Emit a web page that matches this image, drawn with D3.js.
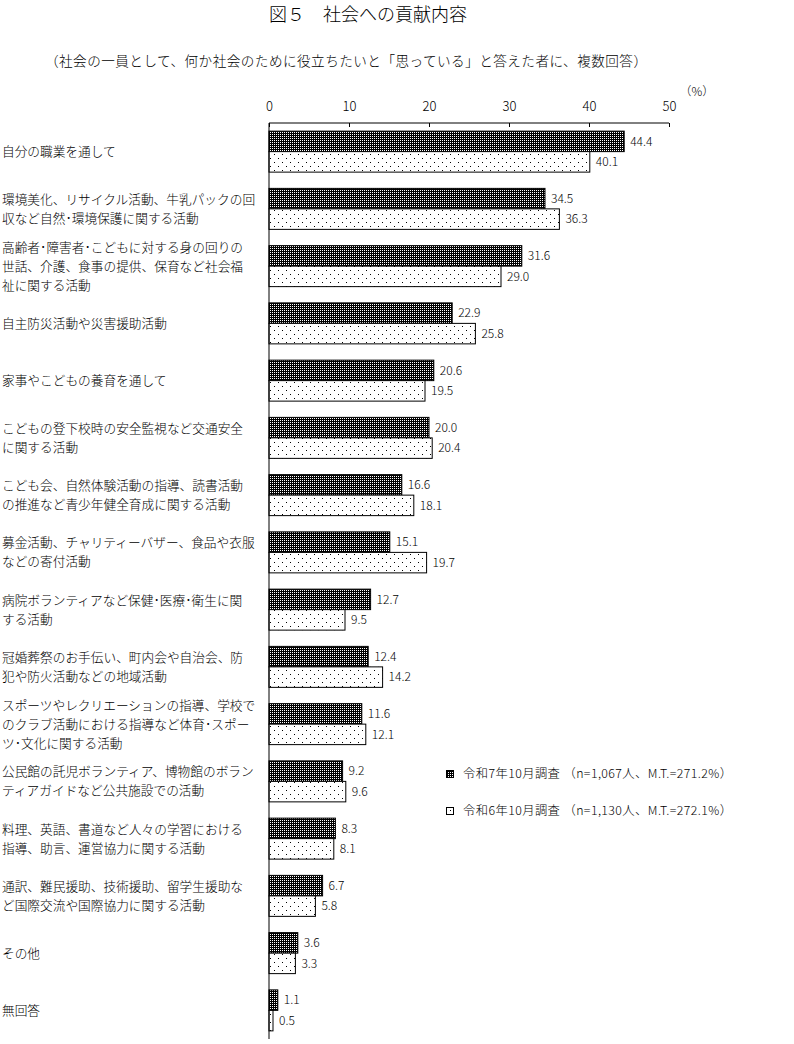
<!DOCTYPE html>
<html><head><meta charset="utf-8">
<script src="https://cdn.jsdelivr.net/npm/d3@7"></script>
<style>
body{margin:0;background:#fff;}
svg{display:block;font-family:"Noto Sans CJK JP","Noto Sans",sans-serif;font-weight:300;}
</style></head>
<body>
<svg id="chart" width="794" height="1044"></svg>
<script>
const title = "図５　社会への貢献内容";
const subtitle = "（社会の一員として、何か社会のために役立ちたいと「思っている」と答えた者に、複数回答）";
const categories = [
"自分の職業を通して",
"環境美化、リサイクル活動、牛乳パックの回\n収など自然･環境保護に関する活動",
"高齢者･障害者･こどもに対する身の回りの\n世話、介護、食事の提供、保育など社会福\n祉に関する活動",
"自主防災活動や災害援助活動",
"家事やこどもの養育を通して",
"こどもの登下校時の安全監視など交通安全\nに関する活動",
"こども会、自然体験活動の指導、読書活動\nの推進など青少年健全育成に関する活動",
"募金活動、チャリティーバザー、食品や衣服\nなどの寄付活動",
"病院ボランティアなど保健･医療･衛生に関\nする活動",
"冠婚葬祭のお手伝い、町内会や自治会、防\n犯や防火活動などの地域活動",
"スポーツやレクリエーションの指導、学校で\nのクラブ活動における指導など体育･スポー\nツ･文化に関する活動",
"公民館の託児ボランティア、博物館のボラン\nティアガイドなど公共施設での活動",
"料理、英語、書道など人々の学習における\n指導、助言、運営協力に関する活動",
"通訳、難民援助、技術援助、留学生援助な\nど国際交流や国際協力に関する活動",
"その他",
"無回答"
];
const seriesR7 = [44.4,34.5,31.6,22.9,20.6,20.0,16.6,15.1,12.7,12.4,11.6,9.2,8.3,6.7,3.6,1.1];
const seriesR6 = [40.1,36.3,29.0,25.8,19.5,20.4,18.1,19.7,9.5,14.2,12.1,9.6,8.1,5.8,3.3,0.5];
const seriesNames = ["令和7年10月調査 （n=1,067人、M.T.=271.2%）","令和6年10月調査 （n=1,130人、M.T.=272.1%）"];
const seriesKeys = ["r7","r6"];
const xTicks = [0,10,20,30,40,50];
const unitLabel = "（%）";

const svg = d3.select("#chart");
const defs = svg.append("defs");
const pd = defs.append("pattern").attr("id","pDark").attr("patternUnits","userSpaceOnUse")
  .attr("width",2).attr("height",2);
pd.append("rect").attr("width",2).attr("height",2).attr("fill","#000");
pd.append("rect").attr("x",0).attr("y",0).attr("width",1).attr("height",1).attr("fill","#fff");
const pl = defs.append("pattern").attr("id","pLight").attr("patternUnits","userSpaceOnUse")
  .attr("width",8).attr("height",8);
pl.append("rect").attr("width",8).attr("height",8).attr("fill","#fff");
pl.append("rect").attr("x",2).attr("y",2).attr("width",1).attr("height",1).attr("fill","#000");
pl.append("rect").attr("x",6).attr("y",6).attr("width",1).attr("height",1).attr("fill","#000");
const fills = {r7:"url(#pDark)", r6:"url(#pLight)"};

const x = d3.scaleLinear().domain([0,50]).range([269,669]);
const y = d3.scaleBand().domain(d3.range(categories.length)).range([123,1039])
  .paddingInner(0.284).paddingOuter(0.142);
const ySub = d3.scaleBand().domain(seriesKeys).range([0,y.bandwidth()]);

svg.append("text").attr("x",368).attr("y",15).attr("dy","0.35em").attr("text-anchor","middle")
  .attr("font-size",18).text(title);
svg.append("text").attr("x",45).attr("y",61).attr("dy","0.35em")
  .attr("font-size",13.6).attr("textLength",602).attr("lengthAdjust","spacing").text(subtitle);

const axis = d3.axisTop(x).tickValues(xTicks).tickSize(-4).tickPadding(12).tickFormat(d3.format("d"));
const ag = svg.append("g").attr("transform","translate(0,123)").call(axis);
ag.select(".domain").attr("d","M269,0H669").attr("stroke","#000");
ag.selectAll(".tick line").attr("stroke","#000");
ag.selectAll(".tick text").attr("font-size",13).attr("fill","#000")
  .attr("font-family","'Noto Sans CJK JP',sans-serif").attr("font-weight",300);
svg.append("text").attr("x",697).attr("y",92).attr("dy","0.35em").attr("text-anchor","middle")
  .attr("font-size",12).text(unitLabel);

const rows = categories.map((c,i)=>({i, c, r7:seriesR7[i], r6:seriesR6[i]}));
const g = svg.append("g");
rows.forEach(r=>{
  seriesKeys.forEach(k=>{
    const yy = y(r.i)+ySub(k);
    g.append("rect").attr("x",x(0)).attr("y",yy).attr("width",x(r[k])-x(0)).attr("height",ySub.bandwidth())
      .attr("fill",fills[k]).attr("stroke","#000").attr("stroke-width",1);
    g.append("text").attr("x",x(r[k])+6).attr("y",yy+ySub.bandwidth()/2).attr("dy","0.35em")
      .attr("font-size",12).text(r[k].toFixed(1));
  });
  const lines = r.c.split("\n");
  const cy = y(r.i)+y.bandwidth()/2;
  const lh = 19;
  const t = svg.append("text").attr("font-size",12.7);
  lines.forEach((ln,j)=>{
    t.append("tspan").attr("x",2).attr("y",cy+(j-(lines.length-1)/2)*lh).attr("dy","0.35em").text(ln);
  });
});

svg.append("line").attr("x1",x(0)).attr("x2",x(0)).attr("y1",123).attr("y2",1039)
  .attr("stroke","#000").attr("stroke-width",1);

const legY = [774, 811];
seriesKeys.forEach((k,i)=>{
  svg.append("rect").attr("x",446.5).attr("y",legY[i]-3.5).attr("width",7).attr("height",7)
    .attr("fill",fills[k]).attr("stroke","#000");
  svg.append("text").attr("x",463).attr("y",legY[i]).attr("dy","0.35em").attr("font-size",12.3)
    .attr("textLength",269).attr("lengthAdjust","spacing").text(seriesNames[i]);
});
</script>
</body></html>
